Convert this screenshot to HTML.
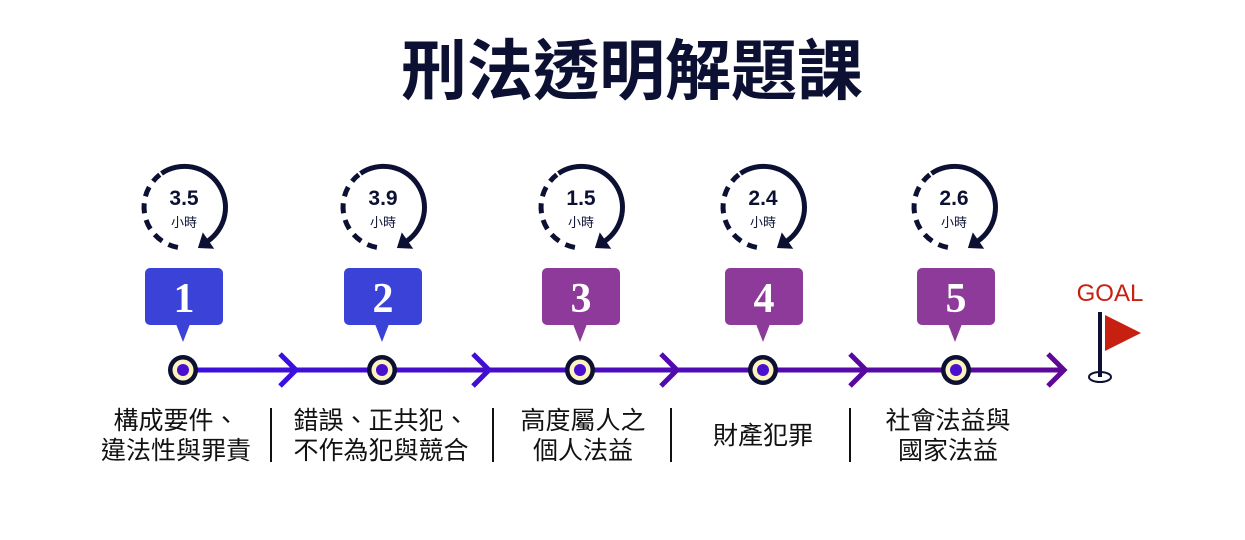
<!DOCTYPE html>
<html><head><meta charset="utf-8"><style>
html,body{margin:0;padding:0;background:#fff;}
svg{display:block}
text{font-family:"Liberation Sans","Noto Sans CJK TC",sans-serif;}
text.num{font-family:"Liberation Serif",serif;}
</style></head><body>
<svg width="1245" height="540" viewBox="0 0 1245 540" xmlns="http://www.w3.org/2000/svg">
<defs>
<linearGradient id="lg" x1="183" y1="0" x2="1063" y2="0" gradientUnits="userSpaceOnUse">
<stop offset="0" stop-color="#3a10e0"/><stop offset="0.45" stop-color="#4a0cc0"/><stop offset="1" stop-color="#5e0896"/>
</linearGradient>
<g id="clk">
<path d="M-23.5,-33.6 A41 41 0 0 1 22.5,34.3" fill="none" stroke="#0c1133" stroke-width="5"/>
<polygon points="12.9,41 29.2,41.8 17.8,25.4" fill="#0c1133"/>
<path d="M-7.1,40.4 A41 41 0 0 1 -25.2,-32.3" fill="none" stroke="#0c1133" stroke-width="5" stroke-dasharray="10 7"/>
</g>
<g id="node">
<circle r="15" fill="#0c1133"/><circle r="10.5" fill="#fdf3c0"/><circle r="6" fill="#4a10d0"/>
</g>
</defs>
<text x="632" y="94" text-anchor="middle" font-size="66" font-weight="bold" fill="#0c1133">刑法透明解題課</text>

<line x1="183" y1="370" x2="1063" y2="370" stroke="url(#lg)" stroke-width="5"/>
<polyline points="280,354 296,370 280,386" fill="none" stroke="#3a10e0" stroke-width="5"/>
<polyline points="473,354 489,370 473,386" fill="none" stroke="#420ed0" stroke-width="5"/>
<polyline points="661,354 677,370 661,386" fill="none" stroke="#500aae" stroke-width="5"/>
<polyline points="850,354 866,370 850,386" fill="none" stroke="#58089e" stroke-width="5"/>
<polyline points="1048,354 1064,370 1048,386" fill="none" stroke="#5e0896" stroke-width="5"/>

<use href="#clk" x="185" y="207"/><use href="#clk" x="384" y="207"/><use href="#clk" x="582" y="207"/><use href="#clk" x="764" y="207"/><use href="#clk" x="955" y="207"/>
<g font-weight="bold" font-size="21" fill="#0c1133" text-anchor="middle">
<text x="184" y="205">3.5</text><text x="383" y="205">3.9</text><text x="581" y="205">1.5</text><text x="763" y="205">2.4</text><text x="954" y="205">2.6</text>
</g>
<g font-size="13" fill="#0c1133" text-anchor="middle">
<text x="184" y="227">小時</text><text x="383" y="227">小時</text><text x="581" y="227">小時</text><text x="763" y="227">小時</text><text x="954" y="227">小時</text>
</g>

<g>
<rect x="145" y="268" width="78" height="57" rx="5" fill="#3b42d8"/><polygon points="176,324 190,324 183,342" fill="#3b42d8"/>
<rect x="344" y="268" width="78" height="57" rx="5" fill="#3b42d8"/><polygon points="375,324 389,324 382,342" fill="#3b42d8"/>
<rect x="542" y="268" width="78" height="57" rx="5" fill="#8e3a9a"/><polygon points="573,324 587,324 580,342" fill="#8e3a9a"/>
<rect x="725" y="268" width="78" height="57" rx="5" fill="#8e3a9a"/><polygon points="756,324 770,324 763,342" fill="#8e3a9a"/>
<rect x="917" y="268" width="78" height="57" rx="5" fill="#8e3a9a"/><polygon points="948,324 962,324 955,342" fill="#8e3a9a"/>
</g>
<g font-weight="bold" font-size="42" fill="#fff" text-anchor="middle">
<text class="num" x="184" y="312">1</text><text class="num" x="383" y="312">2</text><text class="num" x="581" y="312">3</text><text class="num" x="764" y="312">4</text><text class="num" x="956" y="312">5</text>
</g>

<use href="#node" x="183" y="370"/><use href="#node" x="382" y="370"/><use href="#node" x="580" y="370"/><use href="#node" x="763" y="370"/><use href="#node" x="956" y="370"/>

<text x="1110" y="301" text-anchor="middle" font-size="24" fill="#c82010">GOAL</text>
<ellipse cx="1100" cy="377" rx="11" ry="5" fill="none" stroke="#0c1133" stroke-width="2"/>
<line x1="1100" y1="312" x2="1100" y2="377" stroke="#0c1133" stroke-width="4"/>
<polygon points="1105,315 1141,333 1105,351" fill="#c82010"/>

<g stroke="#111" stroke-width="2">
<line x1="271" y1="408" x2="271" y2="462"/><line x1="493" y1="408" x2="493" y2="462"/><line x1="671" y1="408" x2="671" y2="462"/><line x1="850" y1="408" x2="850" y2="462"/>
</g>
<g font-size="25" fill="#111" text-anchor="middle">
<text x="176" y="429">構成要件、</text><text x="176" y="459">違法性與罪責</text>
<text x="381" y="429">錯誤、正共犯、</text><text x="381" y="459">不作為犯與競合</text>
<text x="583" y="429">高度屬人之</text><text x="583" y="459">個人法益</text>
<text x="763" y="444">財產犯罪</text>
<text x="948" y="429">社會法益與</text><text x="948" y="459">國家法益</text>
</g>
</svg>
</body></html>
